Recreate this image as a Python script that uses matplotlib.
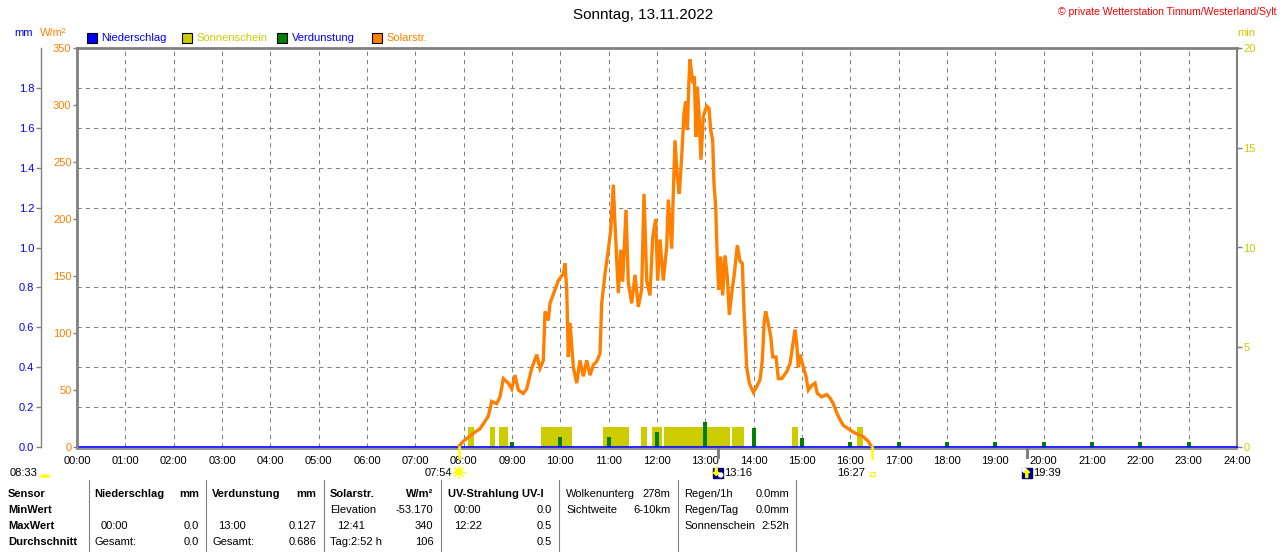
import matplotlib
matplotlib.use("Agg")
import matplotlib.pyplot as plt
from matplotlib import font_manager as fm
from matplotlib.patches import Rectangle, Ellipse, Polygon, Wedge
from matplotlib.lines import Line2D
import numpy as np

# ---------------- data ----------------
title = "Sonntag, 13.11.2022"
copyright_text = "© private Wetterstation Tinnum/Westerland/Sylt"

hour_ticks = [0, 1, 2, 3, 4, 5, 6, 7, 8, 9, 10, 11, 12, 13, 14, 15, 16, 17, 18, 19, 20, 21, 22, 23, 24]
hour_labels = ["00:00", "01:00", "02:00", "03:00", "04:00", "05:00", "06:00", "07:00",
               "08:00", "09:00", "10:00", "11:00", "12:00", "13:00", "14:00", "15:00",
               "16:00", "17:00", "18:00", "19:00", "20:00", "21:00", "22:00", "23:00", "24:00"]
mm_ticks = [0.0, 0.2, 0.4, 0.6, 0.8, 1.0, 1.2, 1.4, 1.6, 1.8]
mm_labels = ["0.0", "0.2", "0.4", "0.6", "0.8", "1.0", "1.2", "1.4", "1.6", "1.8"]
w_ticks = [0, 50, 100, 150, 200, 250, 300, 350]
min_ticks = [0, 5, 10, 15, 20]

legend_labels = ["Niederschlag", "Sonnenschein", "Verdunstung", "Solarstr."]

# solar radiation W/m² (time in hours)
solar_time = [7.910, 7.993, 8.199, 8.338, 8.510, 8.580, 8.684, 8.752, 8.820, 8.924,
              8.994, 9.062, 9.131, 9.234, 9.304, 9.408, 9.511, 9.579, 9.648, 9.683,
              9.751, 9.786, 9.890, 9.958, 10.062, 10.097, 10.132, 10.165, 10.200, 10.269,
              10.339, 10.407, 10.475, 10.546, 10.614, 10.682, 10.752, 10.821, 10.856, 10.924,
              10.993, 11.042, 11.096, 11.131, 11.200, 11.249, 11.290, 11.359, 11.407, 11.477,
              11.545, 11.613, 11.683, 11.731, 11.787, 11.855, 11.911, 11.973, 12.014, 12.062,
              12.130, 12.201, 12.234, 12.304, 12.337, 12.372, 12.420, 12.461, 12.511, 12.559,
              12.594, 12.627, 12.662, 12.683, 12.739, 12.772, 12.807, 12.834, 12.869, 12.910,
              12.958, 13.028, 13.076, 13.111, 13.152, 13.179, 13.214, 13.248, 13.276, 13.318,
              13.359, 13.407, 13.455, 13.496, 13.546, 13.600, 13.662, 13.717, 13.765, 13.800,
              13.856, 13.910, 13.993, 14.063, 14.131, 14.179, 14.220, 14.249, 14.303, 14.353,
              14.394, 14.462, 14.510, 14.580, 14.683, 14.752, 14.808, 14.855, 14.890, 14.924,
              14.959, 15.027, 15.083, 15.131, 15.201, 15.269, 15.317, 15.408, 15.511, 15.579,
              15.648, 15.718, 15.786, 15.855, 15.959, 16.062, 16.165, 16.269, 16.372, 16.442]
solar_value = [1, 5, 12, 16, 27, 40, 38, 44, 60, 56,
               51, 63, 50, 47, 51, 69, 81, 69, 76, 119,
               111, 126, 138, 146, 152, 161, 138, 79, 109, 70,
               56, 76, 62, 76, 63, 72, 75, 82, 126, 152,
               173, 190, 230, 196, 135, 173, 145, 208, 144, 126,
               151, 123, 138, 222, 146, 133, 184, 200, 146, 182,
               146, 176, 217, 174, 222, 269, 237, 222, 255, 293,
               303, 278, 322, 340, 319, 325, 272, 316, 293, 252,
               290, 299, 297, 278, 269, 231, 211, 164, 138, 167,
               133, 168, 149, 116, 135, 152, 177, 163, 161, 120,
               70, 56, 48, 53, 59, 76, 111, 119, 108, 97,
               79, 79, 60, 60, 66, 73, 89, 103, 91, 70,
               81, 70, 62, 50, 54, 56, 47, 44, 46, 43,
               38, 30, 24, 19, 16, 13, 11, 9, 5, 0]

# sunshine (min) intervals
sun_start = [8.10, 8.55, 8.73, 9.60, 10.88, 11.67, 11.89, 12.15, 13.56, 14.80, 16.14]
sun_end = [8.22, 8.65, 8.91, 10.24, 11.43, 11.79, 12.10, 13.51, 13.80, 14.91, 16.26]
sun_minutes = [1, 1, 1, 1, 1, 1, 1, 1, 1, 1, 1]

# evaporation (mm)
evap_time = [9, 10, 11, 12, 13, 14, 15, 16, 17, 18, 19, 20, 21, 22, 23]
evap_value = [0.025, 0.05, 0.048, 0.074, 0.127, 0.097, 0.045, 0.025,
              0.023, 0.023, 0.023, 0.023, 0.023, 0.023, 0.023]

# precipitation (mm)
rain_time = [0, 24]
rain_value = [0.0, 0.0]

# astronomical events
sunrise, sunrise_label = 7.9, "07:54"
sunset, sunset_label = 16.45, "16:27"
moonset, moonset_label = 13.267, "13:16"
moonrise, moonrise_label = 19.65, "19:39"
daylength_label = "08:33"

# table contents
tbl_sensor = ["Sensor", "MinWert", "MaxWert", "Durchschnitt"]
tbl_rain = [("Niederschlag", "mm"), ("", ""), ("00:00", "0.0"), ("Gesamt:", "0.0")]
tbl_evap = [("Verdunstung", "mm"), ("", ""), ("13:00", "0.127"), ("Gesamt:", "0.686")]
tbl_solar = [("Solarstr.", "W/m²"), ("Elevation", "-53.170"), ("12:41", "340"), ("Tag:2:52 h", "106")]
tbl_uv = [("UV-Strahlung UV-I", ""), ("00:00", "0.0"), ("12:22", "0.5"), ("", "0.5")]
tbl_cloud = [("Wolkenunterg", "278m"), ("Sichtweite", "6-10km")]
tbl_misc = [("Regen/1h", "0.0mm"), ("Regen/Tag", "0.0mm"), ("Sonnenschein", "2:52h")]

# ---------------- styling ----------------
BLUE = "#0000ff"
ORANGE = "#ff8000"
YEL = "#cccc00"
BRIGHT = "#ffff00"
GREEN = "#008000"
GREY = "#808080"

names = {f.name for f in fm.fontManager.ttflist}
if "Liberation Sans Narrow" in names:
    FONT, FS = "Liberation Sans Narrow", 9
else:
    FONT, FS = "Liberation Sans", 8
plt.rcParams["font.family"] = [FONT, "DejaVu Sans"]

W, H = 1280, 552
L, R, T, B = 77, 1237, 48, 447
fig = plt.figure(figsize=(W / 100, H / 100), dpi=100)
fig.patch.set_facecolor("white")
rect = [L / W, 1 - B / H, (R - L) / W, (B - T) / H]


def ftext(x, y, s, **kw):
    kw.setdefault("fontsize", FS)
    kw.setdefault("va", "center")
    fig.text(x / W, 1 - y / H, s, **kw)


# --- bottom axes: grid, sunshine, right (min) axis
ax_min = fig.add_axes(rect)
ax_min.set_xlim(0, 24)
ax_min.set_ylim(0, 20)
ax_min.set_facecolor("white")
ax_min.set_axisbelow(True)
ax_min.set_xticks(hour_ticks[1:-1])
ax_min.set_xticklabels([])
ax_min.tick_params(axis="x", length=0)
ax_min.yaxis.tick_right()
ax_min.set_yticks(min_ticks)
ax_min.set_yticklabels([str(v) for v in min_ticks], color=YEL, fontsize=FS)
ax_min.set_yticks(np.arange(2, 20, 2), minor=True)
ax_min.tick_params(axis="y", which="major", length=3.5, pad=1, color=GREY, width=1)
ax_min.tick_params(axis="y", which="minor", length=0)
ax_min.grid(axis="x", which="major", color=GREY, lw=0.75, ls=(0, (4, 4)))
ax_min.grid(axis="y", which="minor", color=GREY, lw=0.75, ls=(0, (4, 4)))
for s in ["left", "top"]:
    ax_min.spines[s].set_visible(False)
ax_min.spines["right"].set_color(GREY)
ax_min.spines["right"].set_linewidth(1.5)
ax_min.spines["bottom"].set_color(GREY)
ax_min.spines["bottom"].set_linewidth(1.2)
ax_min.spines["bottom"].set_position(("outward", 1.2))
widths = [e - s for s, e in zip(sun_start, sun_end)]
ax_min.bar(sun_start, sun_minutes, width=widths, align="edge", color=YEL, lw=0, zorder=2)

# --- middle axes: mm axis, evaporation, precipitation
ax_mm = fig.add_axes(rect)
ax_mm.patch.set_visible(False)
ax_mm.set_xlim(0, 24)
ax_mm.set_ylim(0, 2)
ax_mm.set_xticks([])
for s in ["right", "top", "bottom"]:
    ax_mm.spines[s].set_visible(False)
ax_mm.spines["left"].set_position(("outward", 26))
ax_mm.spines["left"].set_color(GREY)
ax_mm.spines["left"].set_linewidth(1.0)
ax_mm.set_yticks(mm_ticks)
ax_mm.set_yticklabels(mm_labels, color=BLUE, fontsize=FS)
ax_mm.tick_params(axis="y", length=3.6, pad=1.2, color=GREY, width=1)
ax_mm.bar(evap_time, evap_value, width=0.08, color=GREEN, lw=0, zorder=2)
ax_mm.plot(rain_time, rain_value, color=BLUE, lw=1.2, clip_on=False, zorder=3)

# --- top axes: solar radiation, W/m² axis, frame
ax_w = fig.add_axes(rect)
ax_w.patch.set_visible(False)
ax_w.set_xlim(0, 24)
ax_w.set_ylim(0, 350)
ax_w.plot(solar_time, solar_value, color=ORANGE, lw=2.4, zorder=3, solid_joinstyle="miter")
ax_w.set_yticks(w_ticks)
ax_w.set_yticklabels([str(v) for v in w_ticks], color=ORANGE, fontsize=FS)
ax_w.tick_params(axis="y", length=3.2, pad=0.8, color=GREY, width=1)
ax_w.set_xticks(hour_ticks)
ax_w.set_xticklabels(hour_labels, fontsize=FS, color="black")
ax_w.tick_params(axis="x", length=0, pad=6.5)
for s in ["right", "bottom"]:
    ax_w.spines[s].set_visible(False)
for s in ["left", "top"]:
    ax_w.spines[s].set_color(GREY)
    ax_w.spines[s].set_linewidth(2.0)

# markers below the x axis
xt = ax_w.get_xaxis_transform()
for t in (sunrise, sunset):
    ax_w.plot([t, t], [0, -0.028], transform=xt, color=BRIGHT, lw=1.8, clip_on=False, zorder=5)
for t in (moonset, moonrise):
    ax_w.plot([t, t], [-0.004, -0.026], transform=xt, color=GREY, lw=2.2, clip_on=False, zorder=5)


def xpix(t):
    return ax_w.transData.transform((t, 0))[0]


ROW_Y = 473
# day length
ftext(10, ROW_Y, daylength_label)
fig.add_artist(Wedge((45 / W, 1 - 477 / H), 4.5 / W, 0, 180, color=BRIGHT, transform=fig.transFigure))
# sunrise
sx = xpix(sunrise)
ftext(sx - 7, ROW_Y, sunrise_label, ha="right")
fig.add_artist(Ellipse((sx / W, 1 - 472 / H), 6 / W, 6 / H, color=BRIGHT, transform=fig.transFigure))
for a in np.arange(0, 360, 45):
    ca, sa = np.cos(np.radians(a)), np.sin(np.radians(a))
    fig.add_artist(Line2D([(sx + 4 * ca) / W, (sx + 6 * ca) / W],
                          [1 - (472 + 4 * sa) / H, 1 - (472 + 6 * sa) / H],
                          color=BRIGHT, lw=1, transform=fig.transFigure))
# sunset
ux = xpix(sunset)
ftext(ux - 7.5, ROW_Y, sunset_label, ha="right")
fig.add_artist(Rectangle(((ux - 2.5) / W, 1 - 476 / H), 5 / W, 4.5 / H, fill=False,
                         ec=BRIGHT, lw=0.8, transform=fig.transFigure))


def moon_icon(cx, rise):
    x0, y0 = cx - 5, 467.5
    fig.add_artist(Rectangle((x0 / W, 1 - (y0 + 10) / H), 10 / W, 10 / H, color="#000080",
                             transform=fig.transFigure))
    if rise:
        fig.add_artist(Ellipse(((x0 + 2.5) / W, 1 - (y0 + 2.5) / H), 4 / W, 4 / H, color="white",
                               transform=fig.transFigure))
        pts = [(cx, y0 + 2), (cx + 3, y0 + 5), (cx + 1, y0 + 5), (cx + 1, y0 + 10),
               (cx - 1, y0 + 10), (cx - 1, y0 + 5), (cx - 3, y0 + 5)]
    else:
        fig.add_artist(Ellipse(((x0 + 7.5) / W, 1 - (y0 + 7.5) / H), 4 / W, 4 / H, color="white",
                               transform=fig.transFigure))
        pts = [(cx - 2, y0 + 8), (cx + 1, y0 + 5), (cx - 1, y0 + 5), (cx - 1, y0),
               (cx - 3, y0), (cx - 3, y0 + 5), (cx - 5, y0 + 5)]
    fig.add_artist(Polygon([(px / W, 1 - py / H) for px, py in pts], closed=True, color=BRIGHT,
                           transform=fig.transFigure))


mx = xpix(moonset)
moon_icon(mx, False)
ftext(mx + 6, ROW_Y, moonset_label, ha="left")
rx = xpix(moonrise)
moon_icon(rx, True)
ftext(rx + 6, ROW_Y, moonrise_label, ha="left")

# ---------------- header texts ----------------
fig.text(0.5025, 1 - 15 / H, title, ha="center", va="center", fontsize=11,
         fontfamily=["Liberation Sans", "DejaVu Sans"])
ftext(1277, 12, copyright_text, ha="right", color="red", fontsize=FS - 0.5)
ftext(14, 33, "mm", color=BLUE)
ftext(40, 33, "W/m²", color=ORANGE)
ftext(1237, 33, "min", color=YEL)

leg_x = [87, 182, 277, 372]
leg_face = [BLUE, YEL, GREEN, ORANGE]
leg_tc = [BLUE, YEL, BLUE, ORANGE]
for x, fc, tc, lab in zip(leg_x, leg_face, leg_tc, legend_labels):
    fig.add_artist(Rectangle((x / W, 1 - 43 / H), 10 / W, 10 / H, fc=fc, ec="black", lw=0.8,
                             transform=fig.transFigure))
    ftext(x + 14.5, 38, lab, color=tc)

# ---------------- table ----------------
rows_y = [494, 510, 526, 542]
for xs in [88.6, 206, 323.7, 441, 559, 677.5, 795.5]:
    fig.add_artist(Line2D([xs / W, xs / W], [1 - 480 / H, 0], color=GREY, lw=0.8,
                          transform=fig.transFigure))
for y, s in zip(rows_y, tbl_sensor):
    ftext(8, y, s, fontweight="bold")


def column(data, xl, xr, indent, bold_header=True):
    for i, (a, b) in enumerate(data):
        y = rows_y[i]
        if i == 0 and bold_header:
            ftext(xl, y, a, fontweight="bold")
            ftext(xr, y, b, fontweight="bold", ha="right")
        else:
            dx = indent if (a and a[0].isdigit()) else 0
            ftext(xl + dx, y, a)
            ftext(xr, y, b, ha="right")


column(tbl_rain, 94.7, 198.8, 5.7)
column(tbl_evap, 212.2, 316.3, 6.2)
column(tbl_solar, 329.8, 433.5, 6.9)
column(tbl_uv, 447.8, 551.8, 6.1)
column(tbl_cloud, 566, 670.6, 0, bold_header=False)
column(tbl_misc, 684, 789, 0, bold_header=False)

fig.savefig("out.png", dpi=100, facecolor="white")
